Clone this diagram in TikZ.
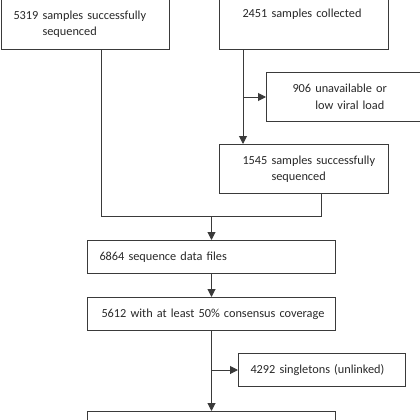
\documentclass[tikz,border=0pt]{standalone}
\usepackage{fontspec}
\setmainfont{Carlito}
\usepackage{tikz}
\usetikzlibrary{positioning,arrows.meta,calc}
\usepackage{xcolor}
\definecolor{flowline}{RGB}{58,58,58}
\definecolor{flowtext}{RGB}{40,40,40}

\begin{document}
\hyphenpenalty=10000
\exhyphenpenalty=10000
\begin{tikzpicture}[
    x=1pt, y=-1pt,
    box/.style={draw=flowline, line width=1pt, anchor=north west, align=left,
        inner ysep=0pt, text=flowtext, font=\fontsize{12.3}{16.5}\selectfont},
    flow/.style={draw=flowline, line width=1pt},
    arr/.style={flow, -{Triangle[length=8pt,width=8pt]}}
]
\useasboundingbox (0,0) rectangle (420,420);

% Sample boxes
\node[box, inner xsep=12pt, text width=144pt, minimum height=51pt] (seq1) at (1,-2)
    {5319~samples~successfully\\\hphantom{5319~}sequenced};
\node[box, inner xsep=23pt, text width=123pt, minimum height=51pt] (coll) at (219,-2)
    {2451~samples~collected\\\strut};
\node[box, inner xsep=26pt, text width=101.5pt, minimum height=49pt] (unav) at (266,72)
    {906~unavailable~or\\\hphantom{906~}low~viral~load};
\node[box, inner xsep=23pt, text width=123pt, minimum height=49pt] (seq2) at (219,144)
    {1545~samples~successfully\\\hphantom{1545~}sequenced};

% Sequence data boxes
\node[box, inner xsep=12pt, text width=224pt, minimum height=33pt] (files) at (87,240)
    {6864~sequence~data~files};
\node[box, inner xsep=14pt, text width=220pt, minimum height=33pt] (cov) at (87,297)
    {5612~with~at~least~50\%~consensus~coverage};
\node[box, inner xsep=12pt, text width=143pt, minimum height=33pt] (single) at (238,353)
    {4292~singletons~(unlinked)};
\node[box, minimum width=248pt, minimum height=33pt] (linked) at (87,411) {};

% Connectors
\coordinate (ax) at ([xshift=100pt]seq1.south west);
\coordinate (bx) at ([xshift=24pt]coll.south west);
\coordinate (dx) at ([xshift=102pt]seq2.south west);
\coordinate (join) at ($(files.north)+(0,-24)$);

\draw[arr] (bx) -- (bx |- seq2.north);
\draw[arr] (bx |- unav.west) -- (unav.west);
\draw[flow] (ax) |- (dx |- join) -- (dx);
\draw[arr] (join) -- (files.north);
\draw[arr] (files.south) -- (cov.north);
\draw[arr] (cov.south) -- (linked.north);
\draw[arr] (cov.south |- single.west) -- (single.west);

\end{tikzpicture}
\end{document}
